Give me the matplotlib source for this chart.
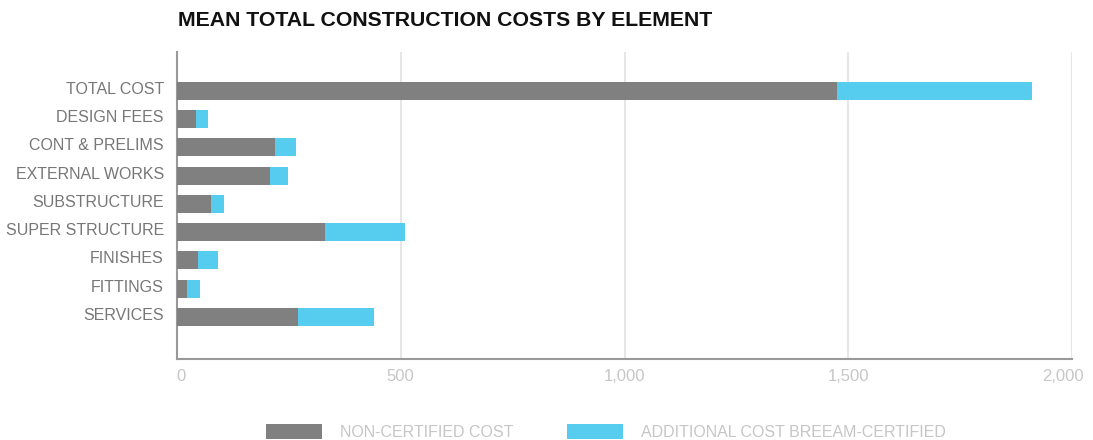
import matplotlib
matplotlib.use("Agg")
import matplotlib.pyplot as plt
import matplotlib.transforms as mtransforms
from matplotlib.ticker import FuncFormatter

categories = ["TOTAL COST", "DESIGN FEES", "CONT & PRELIMS", "EXTERNAL WORKS",
              "SUBSTRUCTURE", "SUPER STRUCTURE", "FINISHES", "FITTINGS", "SERVICES"]
non_certified = [1474, 42, 219, 207, 77, 330, 46, 23, 270]
additional_breeam = [436, 28, 48, 40, 27, 180, 45, 28, 170]
x_ticks = [0, 500, 1000, 1500, 2000]
series_names = ["NON-CERTIFIED COST", "ADDITIONAL COST BREEAM-CERTIFIED"]

GRAY = "#808080"
BLUE = "#56CCEF"
LIGHT = "#c6c6c6"

plt.rcParams['font.family'] = ['Liberation Sans', 'DejaVu Sans']

fig = plt.figure(figsize=(10.93, 4.40), dpi=100)
ax = fig.add_axes([177/1093, 81/440, (1072-177)/1093, (359-52)/440])

y = list(range(len(categories)))
ax.barh(y, non_certified, height=0.64, color=GRAY, label=series_names[0], zorder=3)
ax.barh(y, additional_breeam, left=non_certified, height=0.64, color=BLUE,
        label=series_names[1], zorder=3)

ax.set_xlim(0, 2000)
ax.set_ylim(len(categories) - 1 + 1.49, -1.38)
ax.set_yticks(y)
ax.set_yticklabels(categories)
ax.set_xticks(x_ticks)
ax.xaxis.set_major_formatter(FuncFormatter(lambda v, p: f"{int(v):,}"))

ax.grid(axis='x', color='#e2e2e2', linewidth=1.2, zorder=0)
ax.set_axisbelow(True)
for s in ['top', 'right']:
    ax.spines[s].set_visible(False)
for s in ['left', 'bottom']:
    ax.spines[s].set_color('#999999')
    ax.spines[s].set_linewidth(1.5)

ax.tick_params(axis='y', length=0, pad=9.5, labelsize=11.5, labelcolor='#777777')
ax.tick_params(axis='x', length=0, pad=7, labelsize=12, labelcolor=LIGHT)

fig.canvas.draw()
xlabels = ax.get_xticklabels()
xlabels[-1].set_transform(xlabels[-1].get_transform() +
                          mtransforms.ScaledTranslation(-9/100, 0, fig.dpi_scale_trans))
xlabels[0].set_transform(xlabels[0].get_transform() +
                         mtransforms.ScaledTranslation(4/100, 0, fig.dpi_scale_trans))
for lab in ax.get_yticklabels():
    lab.set_transform(lab.get_transform() +
                      mtransforms.ScaledTranslation(0, 3/100, fig.dpi_scale_trans))

fig.text(178/1093, 1 - 20/440, "MEAN TOTAL CONSTRUCTION COSTS BY ELEMENT",
         fontsize=15.35, fontweight='bold', color='#111111', va='center', ha='left')

leg = fig.legend(loc='center', bbox_to_anchor=(606/1093, 1 - 432/440), ncol=2,
                 frameon=False, fontsize=11.5, handlelength=3.5, handleheight=1.1,
                 handletextpad=1.1, columnspacing=3.4)
for t in leg.get_texts():
    t.set_color(LIGHT)

fig.savefig("out.png", dpi=100)
